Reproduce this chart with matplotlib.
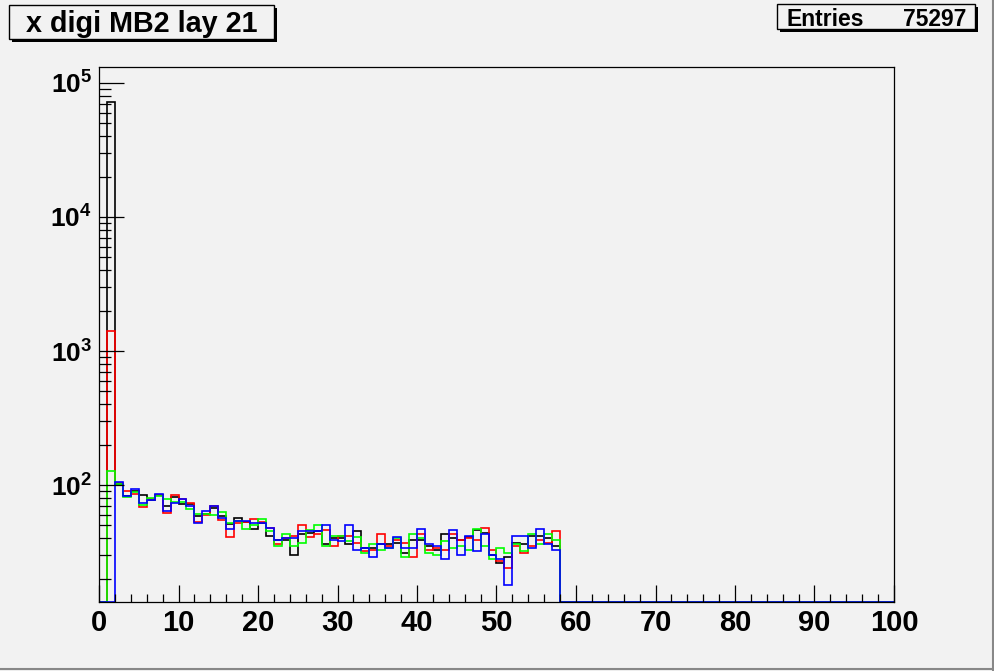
import numpy as np
import matplotlib

matplotlib.use("Agg")
import matplotlib.pyplot as plt
from matplotlib.patches import Rectangle
from matplotlib.lines import Line2D
from matplotlib.ticker import FixedLocator, FixedFormatter, LogLocator, NullFormatter, MultipleLocator

plt.rcParams["font.family"] = ["Liberation Sans", "DejaVu Sans"]
plt.rcParams["font.weight"] = "bold"
plt.rcParams["mathtext.fontset"] = "custom"
plt.rcParams["mathtext.rm"] = "Liberation Sans:bold"
plt.rcParams["mathtext.bf"] = "Liberation Sans:bold"

# histogram contents, bins 1..57 (bin width 1, x range 0..100)
black = [72000, 102, 83, 90, 84, 77, 84, 70, 81, 72,
         72, 59, 61, 67, 59, 51, 57, 53, 47, 52,
         42, 39, 39, 30, 43, 44, 45, 36, 40, 40,
         36, 45, 34, 34, 36, 36, 37, 31, 39, 39,
         35, 33, 43, 40, 39, 41, 46, 44, 30, 26,
         29, 37, 36, 42, 42, 40, 35]
red = [1420, 103, 90, 86, 68, 78, 84, 62, 84, 78,
       74, 53, 60, 70, 55, 41, 52, 53, 56, 53,
       48, 36, 40, 42, 50, 41, 43, 46, 35, 42,
       42, 37, 32, 33, 43, 35, 39, 37, 29, 43,
       33, 34, 33, 43, 39, 40, 39, 48, 33, 27,
       24, 35, 31, 35, 39, 37, 45]
green = [128, 101, 81, 88, 71, 80, 83, 78, 75, 75,
         66, 61, 61, 60, 63, 52, 54, 47, 50, 56,
         45, 35, 43, 35, 37, 46, 50, 35, 42, 42,
         38, 41, 31, 36, 33, 34, 40, 29, 43, 40,
         31, 30, 38, 34, 35, 33, 47, 35, 28, 34,
         31, 36, 32, 43, 36, 43, 39]
blue = [0, 105, 83, 94, 73, 77, 86, 64, 73, 79,
        70, 52, 64, 70, 57, 47, 54, 54, 52, 52,
        48, 39, 40, 40, 45, 45, 45, 50, 39, 38,
        50, 33, 34, 29, 36, 34, 41, 34, 34, 47,
        36, 35, 28, 46, 30, 42, 32, 43, 30, 28,
        18, 42, 42, 34, 47, 36, 33]
series = [(black, "black"), (red, "red"), (green, "#00ff00"), (blue, "blue")]

x_ticks = list(range(0, 101, 10))
y_ticks = [1e2, 1e3, 1e4, 1e5]
y_labels = [r"$\mathbf{10^{2}}$", r"$\mathbf{10^{3}}$", r"$\mathbf{10^{4}}$", r"$\mathbf{10^{5}}$"]
title = "x digi MB2 lay 21"
entries = "75297"

W, H = 995, 671
bg = "#f2f2f2"
ymin, ymax = 13.4, 131600

fig = plt.figure(figsize=(W / 100, H / 100), dpi=100, facecolor=bg)
ax = fig.add_axes([99 / W, 1 - 602 / H, (894 - 99) / W, (602 - 67) / H])
ax.set_facecolor(bg)

edges = np.arange(0, 101)
for vals, col in series:
    h = np.zeros(100)
    h[1:1 + len(vals)] = vals
    ax.stairs(np.maximum(h, ymin), edges, baseline=None, color=col, lw=1.2)

ax.set_yscale("log")
ax.set_xlim(0, 100)
ax.set_ylim(ymin, ymax)

ax.xaxis.set_major_locator(FixedLocator(x_ticks))
ax.xaxis.set_minor_locator(MultipleLocator(2))
ax.yaxis.set_major_locator(FixedLocator(y_ticks))
ax.yaxis.set_major_formatter(FixedFormatter(y_labels))
ax.yaxis.set_minor_locator(LogLocator(base=10, subs=range(2, 10)))
ax.yaxis.set_minor_formatter(NullFormatter())

ax.tick_params(axis="x", which="major", direction="in", length=12.2, width=0.9, pad=5, labelsize=21)
ax.tick_params(axis="x", which="minor", direction="in", length=5.8, width=0.9)
ax.tick_params(axis="y", which="major", direction="in", length=17.8, width=0.9, pad=5, labelsize=19)
ax.tick_params(axis="y", which="minor", direction="in", length=8.9, width=0.9)
for lab in ax.get_xticklabels():
    lab.set_fontweight("bold")
for sp in ax.spines.values():
    sp.set_linewidth(0.9)


def fx(px):
    return px / W


def fy(py):
    return 1 - py / H


def box(x0, y0, x1, y1):
    fig.add_artist(Rectangle((fx(x0 + 3), fy(y1 + 3)), fx(x1 - x0), (y1 - y0) / H,
                             facecolor="black", edgecolor="none", transform=fig.transFigure))
    fig.add_artist(Rectangle((fx(x0), fy(y1)), fx(x1 - x0), (y1 - y0) / H,
                             facecolor=bg, edgecolor="black", lw=1.0, transform=fig.transFigure))


box(9, 5, 274, 39)
fig.text(fx(142), fy(24), title, ha="center", va="center", fontsize=20.7, fontweight="bold")

box(777, 4, 975, 29)
fig.text(fx(787), fy(19), "Entries", ha="left", va="center", fontsize=16.5, fontweight="bold")
fig.text(fx(966), fy(19), entries, ha="right", va="center", fontsize=16.5, fontweight="bold")

# canvas bevel
fig.add_artist(Line2D([fx(993), fx(993)], [fy(0), fy(670)], color="#888888", lw=1.5, transform=fig.transFigure))
fig.add_artist(Line2D([fx(0), fx(994)], [fy(669), fy(669)], color="#888888", lw=1.5, transform=fig.transFigure))

fig.savefig("out.png", dpi=100, facecolor=bg)
